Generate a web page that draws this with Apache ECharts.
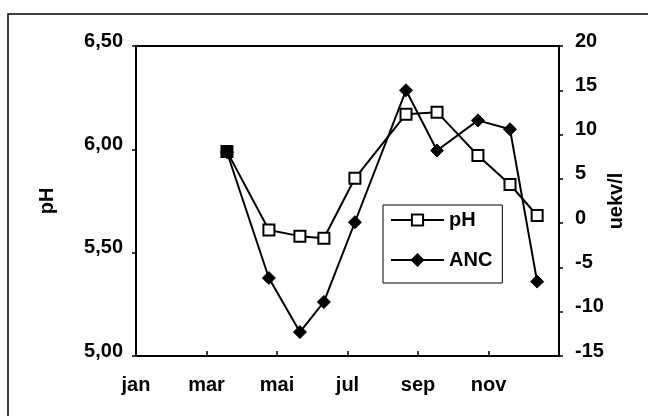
<!DOCTYPE html>
<html>
<head>
<meta charset="utf-8">
<script src="https://cdn.jsdelivr.net/npm/echarts@6/dist/echarts.min.js"></script>
<style>
html,body{margin:0;padding:0;background:#fff;}
#chart{width:648px;height:416px;}
</style>
</head>
<body>
<div id="chart"></div>
<script>
// x positions in months (0 = start of jan)
var monthPos = [2.58, 3.77, 4.65, 5.33, 6.21, 7.66, 8.54, 9.70, 10.61, 11.38];
var phValues = [5.99, 5.61, 5.58, 5.57, 5.86, 6.17, 6.18, 5.97, 5.83, 5.68];
var ancValues = [8.0, -6.2, -12.3, -8.9, 0.1, 15.0, 8.2, 11.6, 10.6, -6.6];
var monthLabels = ['jan', 'mar', 'mai', 'jul', 'sep', 'nov', ''];

var FONT = 'Liberation Sans';
var chart = echarts.init(document.getElementById('chart'), null, {renderer: 'canvas'});

var phData = monthPos.map(function (x, i) {
  var item = {value: [x, phValues[i]]};
  if (i === 0) item.itemStyle = {color: '#000'};
  return item;
});
var ancData = monthPos.map(function (x, i) { return [x, ancValues[i]]; });

var labelStyle = {color: '#000', fontFamily: FONT, fontWeight: 'bold', fontSize: 20};

chart.setOption({
  animation: false,
  backgroundColor: '#fff',
  graphic: [{
    type: 'rect',
    shape: {x: 8, y: 14, width: 700, height: 500},
    style: {fill: 'none', stroke: '#000', lineWidth: 1.5},
    silent: true
  }],
  grid: {left: 136, right: 89, top: 46, bottom: 60, show: true, borderColor: '#000', borderWidth: 2, backgroundColor: 'transparent'},
  legend: {
    left: 383, top: 205, orient: 'vertical',
    borderColor: '#000', borderWidth: 1, padding: [5, 10, 13, 7],
    itemWidth: 53, itemHeight: 14, itemGap: 20,
    textStyle: {color: '#000', fontFamily: FONT, fontWeight: 'bold', fontSize: 20, lineHeight: 20},
    data: ['pH', 'ANC']
  },
  xAxis: {
    type: 'value', min: 0, max: 12, interval: 2,
    axisLine: {show: true, onZero: false, lineStyle: {color: '#000', width: 2}},
    axisTick: {show: true, inside: true, length: 5, lineStyle: {color: '#000', width: 1.5}},
    splitLine: {show: false},
    axisLabel: Object.assign({margin: 19, formatter: function (v) { return monthLabels[Math.round(v / 2)] || ''; }}, labelStyle)
  },
  yAxis: [{
    type: 'value', min: 5, max: 6.5, interval: 0.5, position: 'left',
    name: 'pH', nameLocation: 'middle', nameRotate: 90, nameGap: 79, nameMoveOverlap: false,
    nameTextStyle: {color: '#000', fontFamily: FONT, fontWeight: 'bold', fontSize: 20},
    axisLine: {show: true, onZero: false, lineStyle: {color: '#000', width: 2}},
    axisTick: {show: true, length: 4, lineStyle: {color: '#000', width: 1.5}},
    splitLine: {show: false},
    axisLabel: Object.assign({margin: 13, verticalAlign: 'bottom', lineHeight: 10, formatter: function (v) { return v.toFixed(2).replace('.', ','); }}, labelStyle)
  }, {
    type: 'value', min: -15, max: 20, interval: 5, position: 'right',
    name: 'uekv/l', nameLocation: 'middle', nameRotate: 90, nameGap: 47, nameMoveOverlap: false,
    nameTextStyle: {color: '#000', fontFamily: FONT, fontWeight: 'bold', fontSize: 20},
    axisLine: {show: true, onZero: false, lineStyle: {color: '#000', width: 2}},
    axisTick: {show: true, length: 4, lineStyle: {color: '#000', width: 1.5}},
    splitLine: {show: false},
    axisLabel: Object.assign({margin: 16, verticalAlign: 'bottom', lineHeight: 10}, labelStyle)
  }],
  series: [{
    name: 'ANC', type: 'line', yAxisIndex: 1, data: ancData,
    symbol: 'diamond', symbolSize: 13, showAllSymbol: true,
    lineStyle: {color: '#000', width: 2},
    itemStyle: {color: '#000', borderColor: '#000', borderWidth: 1},
    z: 2
  }, {
    name: 'pH', type: 'line', yAxisIndex: 0, data: phData,
    symbol: 'rect', symbolSize: 11, showAllSymbol: true,
    lineStyle: {color: '#000', width: 2},
    itemStyle: {color: '#fff', borderColor: '#000', borderWidth: 2},
    z: 3
  }]
});
</script>
</body>
</html>
